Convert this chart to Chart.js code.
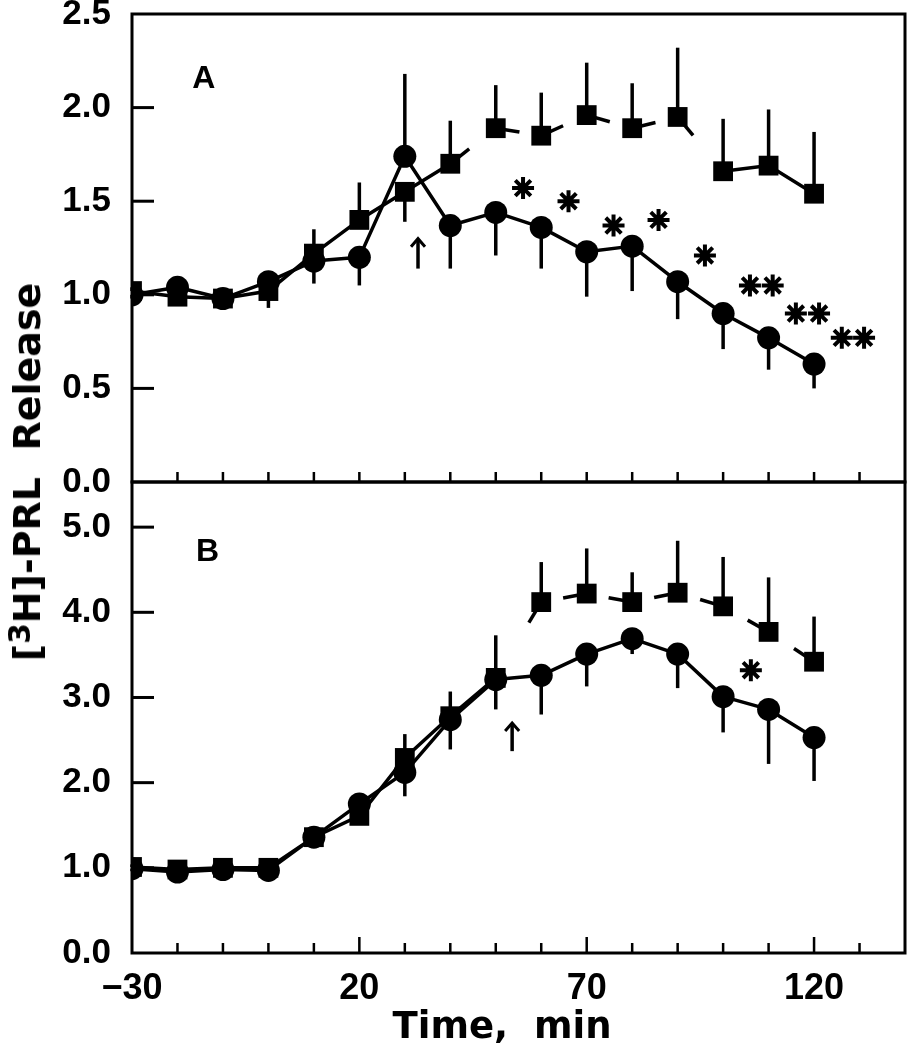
<!DOCTYPE html>
<html>
<head>
<meta charset="utf-8">
<script src="https://cdn.jsdelivr.net/npm/chart.js@4/dist/chart.umd.min.js"></script>
<style>
  body { margin: 0; background: #fff; }
  #wrap { position: relative; width: 908px; height: 1050px; overflow: hidden; }
  canvas { position: absolute; left: 0; }
  #ytitle {
    position: absolute; left: 27px; top: 472px;
    transform: translate(-50%, -50%) rotate(-90deg);
    font: bold 38px "DejaVu Sans"; color: #000; white-space: nowrap;
  }
  #ytitle sup { font-size: 0.78em; vertical-align: 0.35em; line-height: 0; }
</style>
</head>
<body>
<div id="wrap">
  <canvas id="cA" width="908" height="495" style="top:0"></canvas>
  <canvas id="cB" width="908" height="580" style="top:470px"></canvas>
  <div id="ytitle">[<sup>3</sup>H]-PRL&nbsp;&nbsp;Release</div>
</div>
<script>
// sampling times (min)
const times = [-30, -20, -10, 0, 10, 20, 30, 40, 50, 60, 70, 80, 90, 100, 110, 120];

// panel A
const circA    = [1.00, 1.04, 0.98, 1.07, 1.18, 1.20, 1.74, 1.37, 1.44, 1.36, 1.23, 1.26, 1.07, 0.90, 0.77, 0.63];
const circAErr = [0.02, 0.02, 0.02, 0.03, 0.12, 0.15, 0.44, 0.23, 0.23, 0.22, 0.24, 0.24, 0.20, 0.19, 0.17, 0.13];
const sqA      = [1.02, 0.99, 0.98, 1.02, 1.22, 1.40, 1.55, 1.70, 1.89, 1.85, 1.96, 1.89, 1.95, 1.66, 1.69, 1.54];
const sqAErr   = [0.02, 0.02, 0.02, 0.09, 0.13, 0.20, 0.16, 0.23, 0.23, 0.23, 0.28, 0.24, 0.37, 0.28, 0.30, 0.33];
const starsA = [[56, 1.57], [66, 1.50], [75.9, 1.37], [85.8, 1.40], [96, 1.21],
                [105.9, 1.05], [110.9, 1.05], [116, 0.90], [121.1, 0.90], [126.1, 0.77], [131, 0.77]];
const arrowA = [32.9, 1.14, 1.30];
const yTicksA = [0, 0.5, 1.0, 1.5, 2.0, 2.5];

// panel B
const circB    = [0.99, 0.95, 0.98, 0.97, 1.36, 1.75, 2.12, 2.74, 3.21, 3.26, 3.51, 3.69, 3.51, 3.01, 2.86, 2.53];
const circBErr = [0.03, 0.03, 0.03, 0.03, 0.05, 0.06, 0.28, 0.35, 0.35, 0.46, 0.38, 0.18, 0.40, 0.42, 0.64, 0.51];
const sqB      = [1.01, 0.98, 1.00, 1.00, 1.36, 1.61, 2.29, 2.78, 3.23, 4.12, 4.22, 4.12, 4.23, 4.07, 3.77, 3.42];
const sqBErr   = [0.03, 0.03, 0.03, 0.03, 0.05, 0.06, 0.28, 0.29, 0.50, 0.47, 0.53, 0.35, 0.61, 0.58, 0.64, 0.53];
const starsB = [[106.1, 3.32]];
const arrowB = [53.6, 2.37, 2.70];
const yTicksB = [0, 1, 2, 3, 4, 5];

const xTicks = [-30, 20, 70, 120];

Chart.defaults.color = '#000';
Chart.defaults.font.family = 'Liberation Sans';
Chart.defaults.font.weight = 'bold';

const pts = ys => times.map((t, i) => ({ x: t, y: ys[i] }));

// error bars go away from the other curve
function errPlugin(circ, circErr, sq, sqErr) {
    return {
        id: 'errBars',
        beforeDatasetsDraw(chart) {
            const { x, y } = chart.scales, ctx = chart.ctx;
            ctx.save();
            ctx.strokeStyle = '#000';
            ctx.lineWidth = 3.5;
            times.forEach((t, i) => {
                const px = x.getPixelForValue(t);
                const cEnd = circ[i] > sq[i] ? circ[i] + circErr[i] : circ[i] - circErr[i];
                const sEnd = sq[i] >= circ[i] ? sq[i] + sqErr[i] : sq[i] - sqErr[i];
                [[circ[i], cEnd], [sq[i], sEnd]].forEach(([a, b]) => {
                    ctx.beginPath();
                    ctx.moveTo(px, y.getPixelForValue(a));
                    ctx.lineTo(px, y.getPixelForValue(b));
                    ctx.stroke();
                });
            });
            ctx.restore();
        }
    };
}

// box, inward ticks, panel letter, arrow
function framePlugin(yTicks, letter, arrow, tallX, extra) {
    return {
        id: 'frame',
        beforeDatasetsDraw(chart) {
            const { x, y } = chart.scales, ctx = chart.ctx;
            const a = chart.chartArea;
            ctx.save();
            ctx.setLineDash([]);
            ctx.strokeStyle = '#000';
            ctx.fillStyle = '#000';
            ctx.lineWidth = 3;
            ctx.lineCap = 'square';
            ctx.strokeRect(a.left, a.top, a.right - a.left, a.bottom - a.top);
            // y ticks, pointing into the plot
            yTicks.forEach(v => {
                const py = y.getPixelForValue(v);
                if (v > 0 && py > a.top + 2) ctx.fillRect(a.left, py - 1.5, 22, 3);
            });
            // x ticks every 10 min
            for (let v = -20; v <= 130; v += 10) {
                const px = x.getPixelForValue(v);
                const len = tallX && xTicks.includes(v) ? 16 : 10;
                ctx.fillRect(px - 1.25, a.bottom - len, 2.5, len);
            }
            // panel letter
            ctx.font = 'bold 32px "Liberation Sans"';
            ctx.textAlign = 'center';
            ctx.textBaseline = 'middle';
            ctx.fillText(letter[0], x.getPixelForValue(letter[1]), y.getPixelForValue(letter[2]));
            // arrow
            const ax = x.getPixelForValue(arrow[0]);
            const y0 = y.getPixelForValue(arrow[1]), y1 = y.getPixelForValue(arrow[2]);
            ctx.lineCap = 'butt';
            ctx.lineWidth = 3.5;
            ctx.beginPath(); ctx.moveTo(ax, y0); ctx.lineTo(ax, y1 + 2); ctx.stroke();
            ctx.lineWidth = 3;
            ctx.beginPath(); ctx.moveTo(ax - 7, y1 + 8); ctx.lineTo(ax, y1); ctx.lineTo(ax + 7, y1 + 8); ctx.stroke();
            if (extra) extra(ctx);
            ctx.restore();
        }
    };
}

function datasets(circ, sq, stars, dash) {
    return [
        { data: pts(circ), order: 0, borderColor: '#000', backgroundColor: '#000', borderWidth: 3.5,
          borderJoinStyle: 'round', pointStyle: 'circle', pointRadius: 11.5, pointBorderWidth: 0 },
        { data: pts(sq), order: 1, borderColor: '#000', backgroundColor: '#000', borderWidth: 3.5,
          pointStyle: 'rect', pointRadius: 14, pointBorderWidth: 0, segment: { borderDash: dash } },
        { data: stars.map(([x, y]) => ({ x, y })), order: 2, showLine: false, borderColor: '#000',
          backgroundColor: '#000', pointStyle: 'star', pointRadius: 11, pointBorderWidth: 4 }
    ];
}

function yScale(max, ticks, fmt) {
    return {
        min: 0, max: max,
        afterBuildTicks: s => { s.ticks = ticks.map(v => ({ value: v })); },
        afterFit: s => { s.width = 132; s.paddingTop = 0; s.paddingBottom = 0; },
        grid: { display: false, drawTicks: false },
        border: { display: false },
        ticks: { font: { size: 35 }, padding: 21, callback: v => v.toFixed(fmt) }
    };
}

// square curve is broken in the print: short stub after each point
const dashA = c => {
    const t = times[c.p0DataIndex];
    return t >= 40 && t < 100 ? [24, 1000 + c.p0DataIndex] : [];
};
const dashB = c => {
    if (times[c.p0DataIndex] < 50) return [];
    const L = Math.hypot(c.p1.x - c.p0.x, c.p1.y - c.p0.y);
    return [0, Math.max(L - 24, 0), 1000 + c.p0DataIndex];
};

const common = {
    responsive: false,
    animation: false,
    plugins: { legend: { display: false }, tooltip: { enabled: false } }
};

new Chart(document.getElementById('cA'), {
    type: 'line',
    data: { datasets: datasets(circA, sqA, starsA, dashA) },
    options: {
        ...common,
        layout: { autoPadding: false, padding: { top: 14, right: 3, bottom: 13, left: 0 } },
        scales: {
            x: { type: 'linear', display: false, min: -30, max: 140 },
            y: yScale(2.5, yTicksA, 1)
        }
    },
    plugins: [errPlugin(circA, circAErr, sqA, sqAErr), framePlugin(yTicksA, ['A', -14.2, 2.15], arrowA, false)]
});

new Chart(document.getElementById('cB'), {
    type: 'line',
    data: { datasets: datasets(circB, sqB, starsB, dashB) },
    options: {
        ...common,
        layout: { autoPadding: false, padding: { top: 12, right: 3, bottom: 0, left: 0 } },
        scales: {
            x: {
                type: 'linear', min: -30, max: 140,
                afterBuildTicks: s => { s.ticks = xTicks.map(v => ({ value: v })); },
                afterFit: s => { s.height = 97; s.paddingLeft = 0; s.paddingRight = 0; },
                grid: { display: false, drawTicks: false },
                border: { display: false },
                ticks: { font: { size: 36 }, padding: 14, maxRotation: 0, autoSkip: false,
                         callback: v => String(v).replace('-', '\u2212') }
            },
            y: yScale(5.53, yTicksB, 1)
        }
    },
    plugins: [errPlugin(circB, circBErr, sqB, sqBErr),
              framePlugin(yTicksB, ['B', -13.4, 4.71], arrowB, true, ctx => {
                  ctx.font = 'bold 37px "DejaVu Sans"';
                  ctx.textAlign = 'center';
                  ctx.textBaseline = 'alphabetic';
                  ctx.fillText('Time,  min', 502, 568);
              })]
});
</script>
</body>
</html>
